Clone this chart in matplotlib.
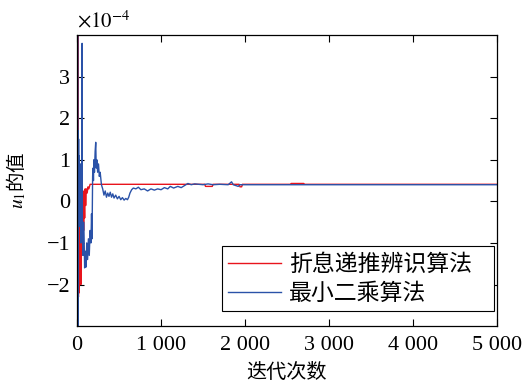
import matplotlib
matplotlib.use('Agg')
import matplotlib.pyplot as plt
from matplotlib.ticker import FuncFormatter

plt.rcParams['font.family'] = ['Liberation Serif', 'Noto Sans CJK SC']
plt.rcParams['mathtext.fontset'] = 'stix'

# 折息递推辨识算法 (values in units of 1e-4)
red_iter = [0, 4, 8, 12, 16, 20, 24, 28, 32, 36, 40, 45, 50, 55, 60, 65, 72, 78,
            84, 90, 96, 102, 110, 120, 130, 140, 155, 1520, 1530, 1610, 1620,
            1930, 1940, 1960, 1970, 2540, 2550, 2700, 2710, 5000]
red_val = [0.5, 4.5, -1.0, 4.5, -2.3, 0.5, -2.2, -1.0, 0.3, -1.5, -0.2, -2.0, 0.4,
           -0.9, 0.2, -0.5, 0.25, -0.7, 0.1, -0.4, 0.3, -0.1, 0.3, 0.2, 0.35, 0.3,
           0.41, 0.41, 0.36, 0.36, 0.41, 0.41, 0.35, 0.35, 0.41, 0.41, 0.43, 0.43,
           0.41, 0.41]

# 最小二乘算法
blue_iter = [0, 2, 4, 6, 8, 10, 14, 18, 22, 26, 30, 34, 38, 42, 46, 50, 55, 60, 63,
             70, 80, 90, 100, 107, 115, 125, 135, 145, 155, 165, 172, 178, 185, 190,
             195, 200, 207, 215, 222, 228, 235, 245, 255, 265, 275, 290, 305, 320,
             335, 350, 365, 380, 395, 410, 425, 440, 460, 480, 500, 520, 540, 560,
             580, 600, 615, 630, 650, 670, 700, 730, 760, 800, 840, 880, 920, 960,
             1000, 1040, 1080, 1110, 1150, 1200, 1240, 1280, 1320, 1360, 1400, 1450,
             1500, 1560, 1620, 1700, 1800, 1840, 1860, 1920, 1940, 2000, 5000]
blue_val = [-3.5, 4.5, -3.5, 4.5, -3.5, 1.7, -0.3, 1.5, 0.2, 1.1, -0.6, 0.8, -0.2,
            0.9, -1.0, 0.5, -0.5, 3.8, -0.8, -1.3, -0.5, -1.6, -1.2, -1.58, -1.0,
            -1.4, -0.9, -1.3, -0.7, -1.0, -0.3, -0.9, 0.6, 0.8, 0.5, 1.0, 0.7, 1.2,
            1.42, 0.8, 1.0, 0.7, 0.9, 0.6, 0.7, 0.4, 0.3, 0.15, 0.25, 0.1, 0.2, 0.12,
            0.22, 0.1, 0.18, 0.08, 0.15, 0.06, 0.12, 0.04, 0.09, 0.03, 0.07, 0.04, 0.1,
            0.2, 0.28, 0.32, 0.3, 0.34, 0.28, 0.3, 0.25, 0.3, 0.27, 0.3, 0.28, 0.33,
            0.3, 0.36, 0.32, 0.36, 0.33, 0.38, 0.43, 0.4, 0.42, 0.41, 0.4, 0.42, 0.4,
            0.41, 0.4, 0.47, 0.4, 0.36, 0.4, 0.4, 0.4]

x_ticks = [0, 1000, 2000, 3000, 4000, 5000]
x_labels = ['0', '1 000', '2 000', '3 000', '4 000', '5 000']
y_ticks = [-2, -1, 0, 1, 2, 3]

fig = plt.figure(figsize=(5.28, 3.85), dpi=100)
ax = fig.add_axes([0.146, 0.153, 0.795, 0.756])

ax.plot(red_iter, red_val, color='#e8141c', lw=1.0, label='折息递推辨识算法')
ax.plot(blue_iter, blue_val, color='#2a52a8', lw=1.0, label='最小二乘算法')

ax.set_xlim(0, 5000)
ax.set_ylim(-3, 4)
ax.set_xticks(x_ticks)
ax.set_xticklabels(x_labels)
ax.set_yticks(y_ticks)
ax.yaxis.set_major_formatter(FuncFormatter(lambda v, p: f'{v:g}'.replace('-', '\u2212')))
ax.tick_params(direction='in', top=True, right=True, length=5, width=0.8,
               labelsize=16)
ax.tick_params(axis='x', pad=7)
ax.tick_params(axis='y', pad=5)
for s in ax.spines.values():
    s.set_linewidth(0.9)

ax.text(0.0, 1.008, r'$\times10^{-4}$', transform=ax.transAxes, fontsize=15,
        ha='left', va='bottom')
ax.set_xlabel('迭代次数', family=['Noto Sans CJK SC'], fontsize=14.5, labelpad=5)
ax.set_ylabel(r'$u_1$的值', family=['Noto Sans CJK SC'], fontsize=14, labelpad=13)

leg = ax.legend(loc='lower left', bbox_to_anchor=(0.345, 0.052, 0.648, 0.2),
                mode='expand',
                prop={'family': ['Noto Sans CJK SC'], 'size': 16.5},
                fancybox=False, framealpha=1, edgecolor='black', handlelength=2.3,
                handletextpad=0.35, labelspacing=0.25, borderaxespad=0,
                borderpad=0.28)
leg.get_frame().set_linewidth(0.8)

fig.savefig('out.png', dpi=100)
